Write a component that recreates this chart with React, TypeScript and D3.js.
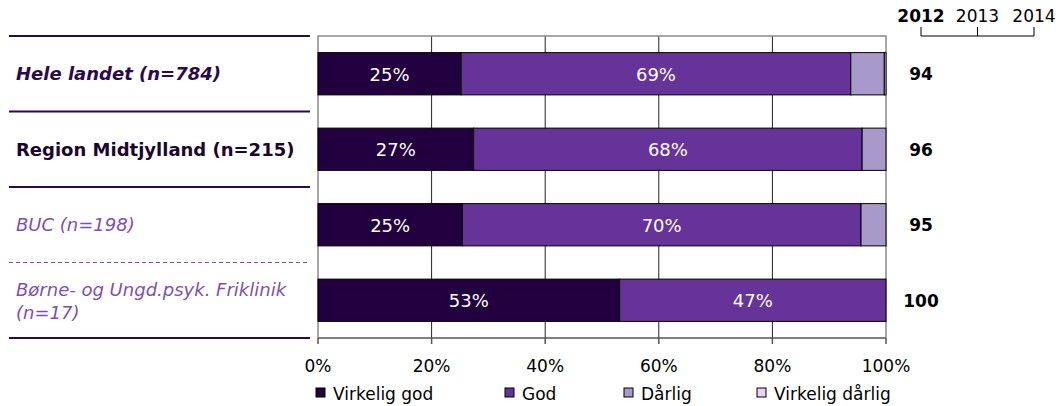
import { useRef, useEffect } from "react";
import * as d3 from "d3";

const categories = [
  "Hele landet (n=784)",
  "Region Midtjylland (n=215)",
  "BUC (n=198)",
  "Børne- og Ungd.psyk. Friklinik (n=17)",
];
const virkeligGod = [25.2, 27.4, 25.4, 53.1];
const god = [68.6, 68.4, 70.2, 46.9];
const darlig = [5.9, 4.2, 4.4, 0];
const virkeligDarlig = [0.3, 0, 0, 0];
const score2012 = [94, 96, 95, 100];
const years = ["2012", "2013", "2014"];
const seriesNames = ["Virkelig god", "God", "Dårlig", "Virkelig dårlig"];
const xTicks = [0, 20, 40, 60, 80, 100];

const colors = ["#220040", "#663399", "#a799c9", "#ead2f7"];
const font = "DejaVu Sans, Verdana, sans-serif";

export default function App() {
  const svgRef = useRef<SVGSVGElement>(null);

  useEffect(() => {
    if (!svgRef.current) return;
    const svg = d3.select(svgRef.current);
    svg.selectAll("*").remove();

    const x = d3.scaleLinear().domain([0, 100]).range([318, 886]);
    const y = d3.scaleBand<string>().domain(categories).range([36, 338])
      .paddingInner(0.44).paddingOuter(0.22);

    const rows = categories.map((c, i) => ({
      cat: c,
      values: [virkeligGod[i], god[i], darlig[i], virkeligDarlig[i]],
    }));

    // gridlines
    svg.append("g").selectAll("line")
      .data(xTicks.slice(1, -1))
      .join("line")
      .attr("x1", (d) => x(d)).attr("x2", (d) => x(d))
      .attr("y1", 36).attr("y2", 338)
      .attr("stroke", "#222").attr("stroke-width", 1);

    // plot border
    svg.append("path")
      .attr("d", `M${x(0)},338V36H${x(100)}V338`)
      .attr("fill", "none").attr("stroke", "#8a8a8a").attr("stroke-width", 1.5);

    // bottom axis
    const axis = svg.append("g").attr("transform", "translate(0,338)");
    axis.append("line").attr("x1", x(0)).attr("x2", x(100))
      .attr("stroke", "#555").attr("stroke-width", 1.5);
    axis.selectAll("line.tick").data(xTicks).join("line")
      .attr("class", "tick")
      .attr("x1", (d) => x(d)).attr("x2", (d) => x(d))
      .attr("y1", 0).attr("y2", 6)
      .attr("stroke", "#555").attr("stroke-width", 1.5);
    axis.selectAll("text").data(xTicks).join("text")
      .attr("x", (d) => x(d)).attr("y", 34)
      .attr("text-anchor", "middle")
      .attr("font-family", font).attr("font-size", 17).attr("fill", "#000")
      .text((d) => `${d}%`);

    // bars
    rows.forEach((r) => {
      let acc = 0;
      const g = svg.append("g");
      r.values.forEach((v, j) => {
        if (v <= 0) return;
        const x0 = x(acc);
        const x1 = x(acc + v);
        acc += v;
        g.append("rect")
          .attr("x", x0).attr("y", y(r.cat)!)
          .attr("width", x1 - x0).attr("height", y.bandwidth())
          .attr("fill", colors[j]).attr("stroke", "#000").attr("stroke-width", 1);
        if (j < 2 && v > 10) {
          g.append("text")
            .attr("x", (x0 + x1) / 2)
            .attr("y", y(r.cat)! + y.bandwidth() / 2 + 7)
            .attr("text-anchor", "middle")
            .attr("font-family", font).attr("font-size", 18).attr("fill", "#fff")
            .text(`${Math.round(v)}%`);
        }
      });
    });

    // row separators
    const seps = d3.range(categories.length + 1).map((i) => 36 + i * y.step());
    svg.append("g").selectAll("line").data(seps).join("line")
      .attr("x1", 9).attr("x2", 310)
      .attr("y1", (d) => d).attr("y2", (d) => d)
      .attr("stroke", (_, i) => (i === 3 ? "#7b4fb5" : "#2a0a4a"))
      .attr("stroke-width", (_, i) => (i === 3 ? 1 : 2))
      .attr("stroke-dasharray", (_, i) => (i === 3 ? "4,3" : null));

    // category labels
    const labelStyle = [
      { weight: "bold", style: "italic", fill: "#2a0a4a" },
      { weight: "bold", style: "normal", fill: "#1a0630" },
      { weight: "normal", style: "italic", fill: "#7b4fb5" },
      { weight: "normal", style: "italic", fill: "#7b4fb5" },
    ];
    rows.forEach((r, i) => {
      const cy = y(r.cat)! + y.bandwidth() / 2;
      const t = svg.append("text")
        .attr("font-family", font).attr("font-size", 18)
        .attr("font-weight", labelStyle[i].weight)
        .attr("font-style", labelStyle[i].style)
        .attr("fill", labelStyle[i].fill);
      if (i === 3) {
        const parts = r.cat.split(" (");
        t.append("tspan").attr("x", 16).attr("y", cy - 4).text(parts[0]);
        t.append("tspan").attr("x", 16).attr("y", cy + 19).text(`(${parts[1]}`);
      } else {
        t.attr("x", 16).attr("y", cy + 6.5).text(r.cat);
      }
    });

    // 2012 scores
    svg.append("g").selectAll("text").data(rows).join("text")
      .attr("x", 921)
      .attr("y", (d) => y(d.cat)! + y.bandwidth() / 2 + 6.5)
      .attr("text-anchor", "middle")
      .attr("font-family", font).attr("font-size", 17).attr("font-weight", "bold")
      .attr("fill", "#000")
      .text((_, i) => score2012[i]);

    // year header
    const yx = d3.scalePoint<string>().domain(years).range([921, 1034]);
    svg.append("path")
      .attr("d", `M${yx("2012")},27V36H${yx("2014")}V27M${yx("2013")},27V36`)
      .attr("fill", "none").attr("stroke", "#000").attr("stroke-width", 1);
    svg.append("g").selectAll("text").data(years).join("text")
      .attr("x", (d) => yx(d)!).attr("y", 22)
      .attr("text-anchor", "middle")
      .attr("font-family", font).attr("font-size", 17)
      .attr("font-weight", (_, i) => (i === 0 ? "bold" : "normal"))
      .attr("fill", "#000")
      .text((d) => d);

    // legend
    const legendX = [316, 505, 624, 757];
    const lg = svg.append("g");
    seriesNames.forEach((n, i) => {
      lg.append("rect")
        .attr("x", legendX[i]).attr("y", 388)
        .attr("width", 9).attr("height", 9)
        .attr("fill", colors[i]).attr("stroke", "#000").attr("stroke-width", 1);
      lg.append("text")
        .attr("x", legendX[i] + 17).attr("y", 400)
        .attr("font-family", font).attr("font-size", 17).attr("fill", "#000")
        .text(n);
    });
  }, []);

  return (
    <svg
      ref={svgRef}
      width={1056}
      height={406}
      style={{ position: "absolute", left: 0, top: 0, background: "#fff" }}
    />
  );
}
